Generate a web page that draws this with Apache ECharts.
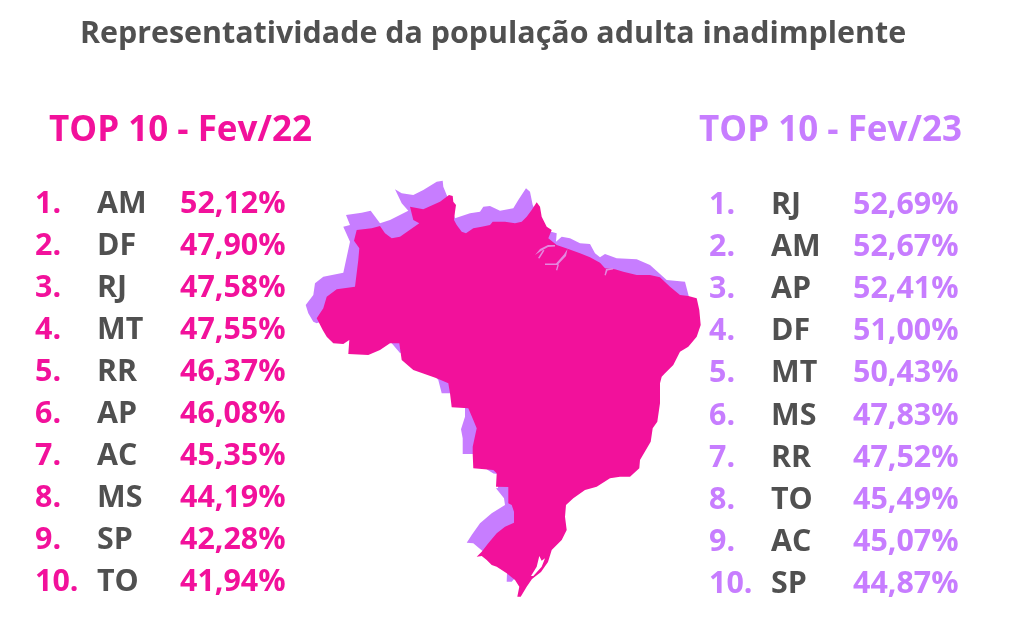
<!DOCTYPE html>
<html>
<head>
    <meta charset="utf-8">
    <title>Representatividade da população adulta inadimplente</title>
    <style>
        html, body { margin: 0; padding: 0; background: #fff; }
        #chart1 { width: 1024px; height: 633px; }
    </style>
    <script src="https://cdn.jsdelivr.net/npm/echarts@6/dist/echarts.min.js"></script>
</head>
<body>
<div id="chart1"></div>
<script type="text/javascript">
    var tituloGrafico = 'Representatividade da população adulta inadimplente';

    var titulo22 = 'TOP 10 - Fev/22';
    var ufs22 = ['AM', 'DF', 'RJ', 'MT', 'RR', 'AP', 'AC', 'MS', 'SP', 'TO'];
    var valores22 = ['52,12%', '47,90%', '47,58%', '47,55%', '46,37%', '46,08%', '45,35%', '44,19%', '42,28%', '41,94%'];

    var titulo23 = 'TOP 10 - Fev/23';
    var ufs23 = ['RJ', 'AM', 'AP', 'DF', 'MT', 'MS', 'RR', 'TO', 'AC', 'SP'];
    var valores23 = ['52,69%', '52,67%', '52,41%', '51,00%', '50,43%', '47,83%', '47,52%', '45,49%', '45,07%', '44,87%'];

    // contornos do mapa, em unidades do proprio mapa
    var contorno22 = [
        [449,195],[452.7,196],[453.3,201.7],[456,205],[455,211.7],[454,220],[456.7,225],[461.7,231.7],[466,233.3],
        [473.3,228.3],[481.7,226.7],[490,225],[492.7,221.7],[505,221.7],[515,223.3],[521.7,221.7],[526.7,216.7],
        [531.7,210],[536.7,202.3],[540,206.7],[541.7,216.7],[546.7,226.7],[551.7,230],[548.3,238.3],[556.7,245],
        [568.3,249],[580,253.3],[590,257.3],[600,262.7],[605,268.3],[615,269.3],[623.3,271.7],[636.7,275],[650,275],
        [660,277.3],[670,286.7],[680,295],[688.3,296],[696.7,298.3],[699.3,310],[700.7,325],[696.7,336.7],[688.3,346.7],
        [680,351.7],[673.3,365],[665,373.3],[661.7,376.7],[660,383.3],[660,403.3],[657.3,421.7],[652.7,428.3],[650.7,441.7],
        [640,460],[639.3,468.3],[630,476.7],[620,476.7],[610,478.3],[596.7,486.7],[585,490],[573.3,498.3],[566,505],
        [565,516.7],[566.7,530],[561.7,540],[551.7,550],[548,562],[541,572],[532,579],[526.7,586.7],[520.7,596.7],
        [517.3,596.7],[519.3,586.7],[515,580],[506.7,573.3],[496.7,566.7],[491.7,565],[486.7,560],[481.7,556],[476.7,556.7],
        [481.7,551.7],[488.3,543.3],[496.7,533.3],[505,526.7],[514,522.7],[514,511.7],[511.7,505],[508.3,503.3],[508.3,487],
        [496,486.7],[496.7,473.3],[493.3,470],[473.3,468.3],[472.7,454],[472.7,446.7],[476.7,428.3],[473.3,420],[468.3,408.3],
        [451.7,407.3],[450,393.3],[448.3,383.3],[436.7,378.3],[413.3,370],[401.7,360],[399.3,343.3],[390,343.3],[380,350],
        [368.3,355],[348.3,354],[349.3,340],[343.3,344],[333.3,343.3],[326.7,336.7],[322.7,330],[316.7,318.3],[323.3,308.3],
        [326.7,296.7],[336.7,289.3],[355,286.7],[358.3,260],[359.3,248.3],[354,240.7],[356.7,230],[371.7,228.3],[380,226],
        [385,233.3],[391.7,238.3],[400,236.7],[419.3,223.3],[413.3,220],[410,206.7],[423.3,209.3],[440,201.7]
    ];
    var contorno23 = [
        [395,189.3],[401.7,193.3],[413.3,195],[423.3,190],[436.7,181.7],[442.7,180.7],[443.3,186.7],[446.7,195],[455,218.3],
        [470,213.3],[480,211.7],[483.3,206.7],[490,206],[500,210.7],[513.3,208.3],[518.3,200],[526,188.3],[530,191.7],
        [532.7,205],[540,220],[545,230],[552,232],[556.7,233.3],[556,241.7],[561.7,236.7],[570,238.3],[580,243.3],[590,244],
        [595,253.3],[600,257.3],[605,254],[616.7,258.3],[636.7,259.3],[650,265],[666.7,280],[685,281.7],[688.7,296],
        [640,400],[540,540],[515,578],[511.7,581.7],[506.7,581.7],[507,573],[520,560],[495,552],[482.5,551],[473.3,543.3],
        [466.7,542.7],[471.7,535],[480,523.3],[491.7,513.3],[505,505],[504,498.3],[496,488.3],[498,488],[498,474],
        [493.5,473.5],[487,469.5],[480,460],[480,454],[462.7,454],[462.7,438.3],[461,429.3],[465,416.7],[465,408.3],
        [460,400],[450,393.3],[441.7,393.3],[438.3,380],[410,350],[400,353],[391.7,343.3],[391,340],[330,330],[320,322],
        [316.7,323.3],[313.3,321.7],[308.3,313.3],[305.7,305],[313.3,295],[315,283.3],[323.3,276.7],[343.3,272.7],
        [350,241.7],[343.3,226.7],[350,225],[346,215],[361.7,212.7],[370.7,210.7],[380,223.3],[390,220],[408.3,210.7],
        [401.7,203.3]
    ];
    var riosDelta = [
        [[535,255],[540,249],[548,245],[555,245],[555,246.5],[548,247],[541,251]],
        [[538,258],[543,250],[544.5,250.5],[539.5,258.5]],
        [[545,263.5],[556,263.5],[564,254.5],[567.5,249],[568.5,249.5],[566,256],[557.5,265],[545,265]],
        [[556,270],[557.5,264.5],[559,264.5],[557.2,270.5]],
        [[604.5,275],[606,269],[613,268],[613,269.5],[607.5,270.5],[605.7,275.5]]
    ];
    var lagoaDosPatos = [[531,576],[536.7,566.7],[539.3,556],[541.7,560.7],[545,558.3],[541.7,566.7],[533.3,576]];

    var rosa = '#f2119b';
    var lilas = '#c77dff';
    var cinza = '#505050';
    var fonte = '"Open Sans", "Noto Sans", sans-serif';

    function anel(pontos) {
        // o eixo y do mapa cresce para cima
        return pontos.map(function (p) { return [p[0], -p[1]]; });
    }

    function feicao(nome, aneis) {
        return {
            type: 'Feature',
            properties: { name: nome },
            geometry: { type: 'MultiPolygon', coordinates: aneis.map(function (a) { return [anel(a)]; }) }
        };
    }

    echarts.registerMap('brasil', {
        type: 'FeatureCollection',
        features: [
            feicao('Fev/23', [contorno23]),
            feicao('Fev/22', [contorno22]),
            feicao('Rios', riosDelta),
            feicao('Lagoa', [lagoaDosPatos])
        ]
    });

    function texto(t, x, y, size, cor, align) {
        return {
            type: 'text',
            silent: true,
            x: x,
            y: y,
            style: {
                text: t,
                fill: cor,
                font: 'bold ' + size + 'px ' + fonte,
                textAlign: align || 'left',
                textVerticalAlign: 'middle'
            }
        };
    }

    function lista(cabecalho, ufs, valores, cor, col) {
        var itens = [texto(cabecalho, col.titulo, col.yTitulo, 35, cor)];
        ufs.forEach(function (uf, i) {
            var y = col.y0 + i * col.passo;
            itens.push(texto((i + 1) + '.', col.num, y, 30.4, cor));
            itens.push(texto(uf, col.uf, y, 30.4, cinza));
            itens.push(texto(valores[i], col.val, y, 30.4, cor));
        });
        return itens;
    }

    var myChart1 = echarts.init(document.getElementById('chart1'));
    myChart1.setOption({
        animation: false,
        backgroundColor: '#ffffff',
        series: [{
            type: 'map',
            map: 'brasil',
            silent: true,
            aspectScale: 1,
            left: 0,
            top: 0,
            width: 1024,
            height: 633,
            boundingCoords: [[0, 0], [1024, -633]],
            label: { show: false },
            emphasis: { disabled: true },
            select: { disabled: true },
            itemStyle: { borderWidth: 0, areaColor: rosa },
            data: [
                { name: 'Fev/23', value: 1, itemStyle: { areaColor: lilas } },
                { name: 'Fev/22', value: 1, itemStyle: { areaColor: rosa } },
                { name: 'Rios', value: 1, itemStyle: { areaColor: '#e489e0' } },
                { name: 'Lagoa', value: 1, itemStyle: { areaColor: '#ffffff' } }
            ]
        }],
        graphic: {
            elements: [texto(tituloGrafico, 80, 34, 30.4, cinza)]
                .concat(lista(titulo22, ufs22, valores22, rosa, { titulo: 49, yTitulo: 131, y0: 204, passo: 42, num: 35, uf: 97, val: 180 }))
                .concat(lista(titulo23, ufs23, valores23, lilas, { titulo: 699, yTitulo: 131, y0: 205, passo: 42.2, num: 709, uf: 771, val: 853 }))
        }
    });
</script>
</body>
</html>
